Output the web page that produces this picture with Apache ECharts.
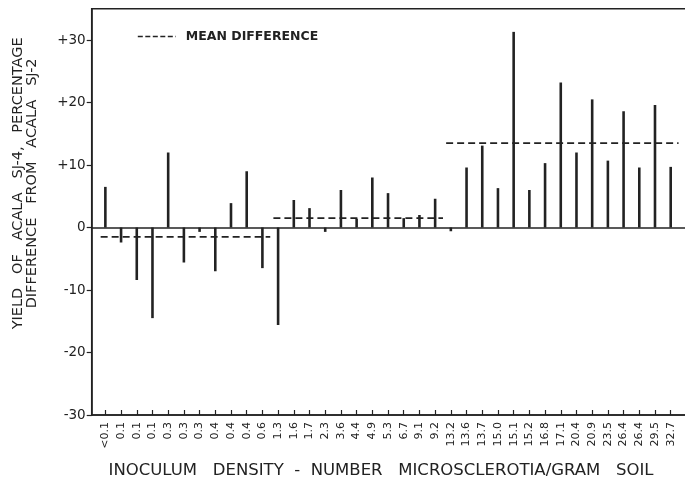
<!DOCTYPE html>
<html>
<head>
<meta charset="utf-8">
<script src="https://cdn.jsdelivr.net/npm/echarts@6/dist/echarts.min.js"></script>
<style>
  html, body { margin: 0; padding: 0; background: #fff; }
  #chart { width: 685px; height: 483px; }
</style>
</head>
<body>
<div id="chart"></div>
<script>
// Inoculum density (microsclerotia per gram of soil), one field per entry
const densityLabels = ['<0.1', '0.1', '0.1', '0.1', '0.3', '0.3', '0.3', '0.4', '0.4', '0.4', '0.6',
  '1.3', '1.6', '1.7', '2.3', '3.6', '4.4', '4.9', '5.3', '6.7', '9.1', '9.2',
  '13.2', '13.6', '13.7', '15.0', '15.1', '15.2', '16.8', '17.1', '20.4', '20.9', '23.5', '26.4', '26.4', '29.5', '32.7'];

// Yield of Acala SJ-4, percentage difference from Acala SJ-2
const yieldDiff = [6.5, -2.4, -8.4, -14.5, 12.0, -5.6, -0.7, -7.0, 3.9, 9.0, -6.5,
  -15.6, 4.4, 3.1, -0.7, 6.0, 1.4, 8.0, 5.5, 1.5, 2.0, 4.6,
  -0.6, 9.6, 13.1, 6.3, 31.3, 6.0, 10.3, 23.2, 12.0, 20.5, 10.7, 18.6, 9.6, 19.6, 9.7];

// Density groups (first and last field index) and their mean differences
const groupFirst = [0, 11, 22];
const groupLast = [10, 21, 36];
const meanDiff = [-1.5, 1.5, 13.5];

// Y axis tick values
const yTicks = [-30, -20, -10, 0, 10, 20, 30];

const INK = '#222';
const FONT = 'DejaVu Sans';
const fieldIdx = densityLabels.map((_, i) => i);

const meanSeries = meanDiff.map((m, g) => ({
  type: 'line',
  name: 'MEAN DIFFERENCE',
  symbol: 'none',
  silent: true,
  z: 4,
  lineStyle: { color: INK, width: 1.6, type: [7, 4] },
  itemStyle: { color: INK },
  data: [[groupFirst[g] - 0.3, m], [groupLast[g] + 0.5, m]]
}));

const chart = echarts.init(document.getElementById('chart'), null, { renderer: 'canvas' });
chart.setOption({
  animation: false,
  backgroundColor: '#fff',
  grid: {
    left: 91.7, right: -1.4, top: 8.75, bottom: 68,
    outerBoundsMode: 'none',
    containLabel: false,
    show: true, borderColor: INK, borderWidth: 1.5, backgroundColor: 'transparent'
  },
  legend: {
    data: ['MEAN DIFFERENCE'],
    left: 132, top: 25,
    itemWidth: 38, itemHeight: 12,
    itemStyle: { opacity: 0 },
    lineStyle: { type: [5, 2.5], width: 1.6, color: INK, opacity: 1 },
    textStyle: { fontFamily: FONT, fontSize: 12.5, fontWeight: 'bold', color: INK, padding: [0, 0, 0, 5] },
    selectedMode: false
  },
  xAxis: {
    type: 'value',
    min: -0.87, max: 37,
    name: 'INOCULUM   DENSITY  -  NUMBER   MICROSCLEROTIA/GRAM   SOIL',
    nameLocation: 'middle',
    nameGap: 47,
    nameTextStyle: { fontFamily: FONT, fontSize: 16.5, color: INK, padding: [0, 16, 0, 0] },
    axisLine: { show: true, onZero: false, lineStyle: { color: INK, width: 1.5 } },
    axisTick: { show: true, inside: true, length: 5, customValues: fieldIdx, lineStyle: { color: INK, width: 1.2 } },
    axisLabel: {
      customValues: fieldIdx,
      rotate: 90, margin: 7,
      fontFamily: FONT, fontSize: 11, color: INK,
      formatter: v => densityLabels[Math.round(v)] ?? ''
    },
    splitLine: { show: false }
  },
  yAxis: {
    type: 'value',
    min: -30, max: 35,
    name: 'YIELD   OF   ACALA   SJ-4,   PERCENTAGE\nDIFFERENCE   FROM   ACALA   SJ-2',
    nameLocation: 'middle',
    nameRotate: 90,
    nameGap: 52,
    nameTextStyle: { fontFamily: FONT, fontSize: 14.5, color: INK, lineHeight: 14, padding: [0, 0, 0, 57] },
    axisLine: { show: true, onZero: false, lineStyle: { color: INK, width: 1.5 } },
    axisTick: { show: true, inside: false, length: 5, customValues: yTicks, lineStyle: { color: INK, width: 1.2 } },
    axisLabel: {
      customValues: yTicks,
      margin: 6,
      fontFamily: FONT, fontSize: 13.5, color: INK,
      formatter: v => (v > 0 ? '+' + v : String(v))
    },
    splitLine: { show: false }
  },
  series: [
    {
      type: 'bar',
      name: 'difference',
      barWidth: 2.6,
      silent: true,
      z: 3,
      itemStyle: { color: INK },
      data: yieldDiff.map((v, i) => [i, v]),
      markLine: {
        silent: true,
        symbol: 'none',
        label: { show: false },
        lineStyle: { color: INK, width: 1.5, type: 'solid' },
        data: [{ yAxis: 0 }]
      }
    },
    ...meanSeries
  ]
});
</script>
</body>
</html>
